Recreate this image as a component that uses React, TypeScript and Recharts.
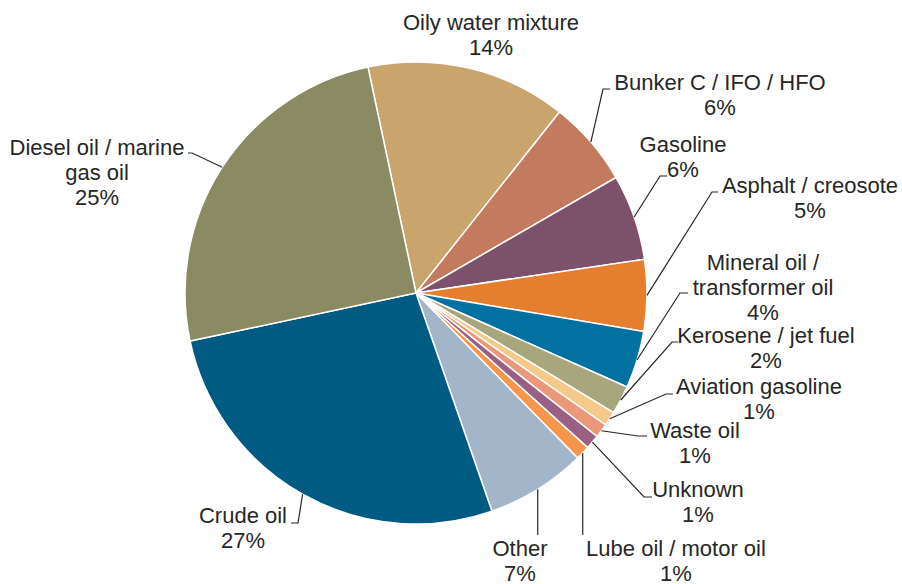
import { Cell, Pie, PieChart } from "recharts"

const categories = [
  "Oily water mixture",
  "Bunker C / IFO / HFO",
  "Gasoline",
  "Asphalt / creosote",
  "Mineral oil / transformer oil",
  "Kerosene / jet fuel",
  "Aviation gasoline",
  "Waste oil",
  "Unknown",
  "Lube oil / motor oil",
  "Other",
  "Crude oil",
  "Diesel oil / marine gas oil",
]

const shares = [14, 6, 6, 5, 4, 2, 1, 1, 1, 1, 7, 27, 25]

// how each category name is broken over lines in its label
const labelLines = [
  ["Oily water mixture"],
  ["Bunker C / IFO / HFO"],
  ["Gasoline"],
  ["Asphalt / creosote"],
  ["Mineral oil /", "transformer oil"],
  ["Kerosene / jet fuel"],
  ["Aviation gasoline"],
  ["Waste oil"],
  ["Unknown"],
  ["Lube oil / motor oil"],
  ["Other"],
  ["Crude oil"],
  ["Diesel oil / marine", "gas oil"],
]

const colors = [
  "#C9A46C",
  "#C37A5E",
  "#7D506B",
  "#E67E30",
  "#0071A1",
  "#A7A67C",
  "#F4C98A",
  "#EC977A",
  "#9B5F83",
  "#F7954A",
  "#A3B6C9",
  "#005B83",
  "#8A8A63",
]

// label placement, relative to the pie centre: text centre (tx, ty of first line),
// leader elbow (ex, ey) and the end of its short horizontal run (hx)
type Spot = { tx: number; ty: number; ex?: number; ey?: number; hx?: number; vertical?: boolean }
const spots: Spot[] = [
  { tx: 75, ty: -271 },
  { tx: 304, ty: -211, ex: 187, ey: -204, hx: 194 },
  { tx: 267, ty: -149, ex: 244, ey: -117, hx: 251 },
  { tx: 394, ty: -108, ex: 296, ey: -101, hx: 302 },
  { tx: 347, ty: -31, ex: 264, ey: 0, hx: 272 },
  { tx: 350, ty: 42, ex: 256, ey: 49, hx: 262 },
  { tx: 343, ty: 93, ex: 250, ey: 101, hx: 257 },
  { tx: 279, ty: 137, ex: 222, ey: 143, hx: 231 },
  { tx: 282, ty: 196, ex: 228, ey: 204, hx: 236 },
  { tx: 260, ty: 255, ey: 242, vertical: true },
  { tx: 104, ty: 255, ey: 242, vertical: true },
  { tx: -173, ty: 222, ex: -118, ey: 230, hx: -125 },
  { tx: -319, ty: -146, ex: -224, ey: -140, hx: -228 },
]

const data = categories.map((name, i) => ({ name, value: shares[i] }))

const FONT = 22
const LINE = 25
const RAD = Math.PI / 180
const INK = "#262626"

function renderLabel(props: any) {
  const { cx, cy, midAngle, outerRadius, index } = props
  const spot = spots[index]
  const sx = cx + outerRadius * Math.cos(-midAngle * RAD)
  const sy = cy + outerRadius * Math.sin(-midAngle * RAD)
  const lines = [...labelLines[index], `${shares[index]}%`]
  const tx = cx + spot.tx
  const ty = cy + spot.ty
  let leader: string | null = null
  if (spot.vertical && spot.ey != null) {
    leader = `M${sx},${sy} L${sx},${cy + spot.ey}`
  } else if (spot.ex != null && spot.ey != null && spot.hx != null) {
    leader = `M${sx},${sy} L${cx + spot.ex},${cy + spot.ey} L${cx + spot.hx},${cy + spot.ey}`
  }
  return (
    <g key={`lbl-${index}`}>
      {leader ? <path d={leader} stroke={INK} strokeWidth={1.2} fill="none" /> : null}
      <text
        x={tx}
        y={ty + FONT * 0.36}
        textAnchor="middle"
        fill={INK}
        fontSize={FONT}
        fontFamily="'Liberation Sans', Arial, sans-serif"
      >
        {lines.map((l, i) => (
          <tspan key={i} x={tx} dy={i === 0 ? 0 : LINE}>
            {l}
          </tspan>
        ))}
      </text>
    </g>
  )
}

export default function App() {
  return (
    <div style={{ position: "absolute", left: 0, top: 0, width: 902, height: 584, background: "#fff" }}>
      <PieChart width={902} height={584} margin={{ top: 0, right: 0, bottom: 0, left: 0 }}>
        <Pie
          data={data}
          dataKey="value"
          nameKey="name"
          cx={416}
          cy={293}
          outerRadius={231}
          startAngle={102}
          endAngle={-258}
          stroke="#ffffff"
          strokeWidth={1.5}
          label={renderLabel}
          labelLine={false}
          isAnimationActive={false}
        >
          {data.map((d, i) => (
            <Cell key={d.name} fill={colors[i]} />
          ))}
        </Pie>
      </PieChart>
    </div>
  )
}
